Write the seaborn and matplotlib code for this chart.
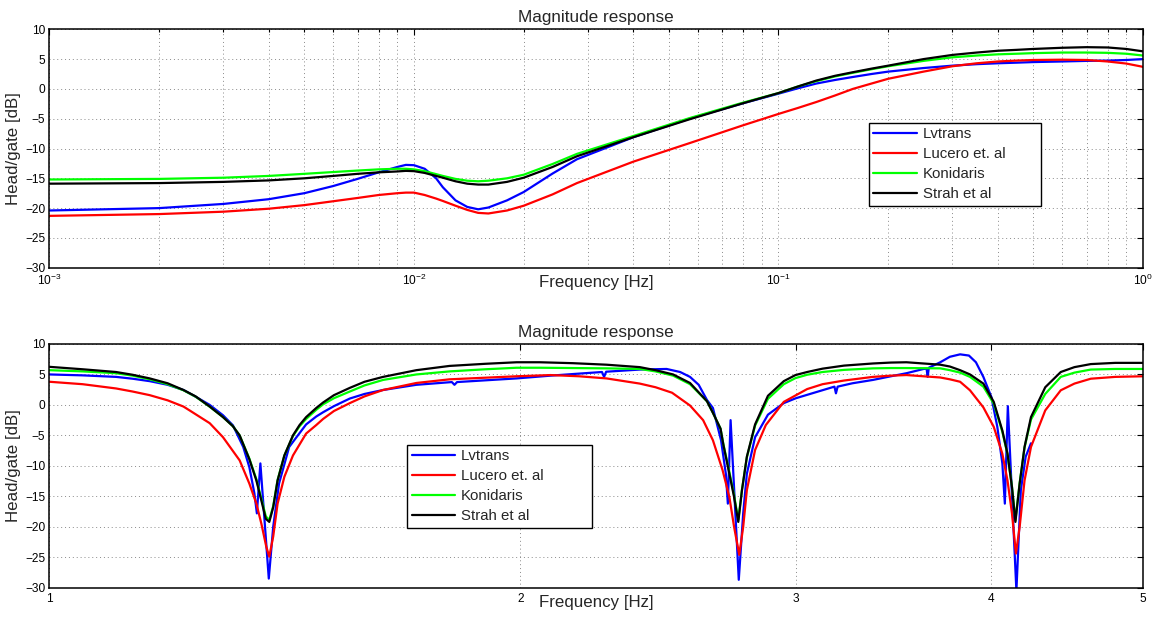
import numpy as np
import pandas as pd
import matplotlib
matplotlib.use("Agg")
import matplotlib.pyplot as plt
from matplotlib.ticker import FixedLocator, FixedFormatter, NullLocator, LogLocator
import seaborn as sns

# ---------------- data ----------------
models = ["Lvtrans", "Lucero et. al", "Konidaris", "Strah et al"]
colors = ["#0000ff", "#ff0000", "#00ff00", "#000000"]

# low-frequency sweep (Hz) and magnitude (dB)
top_freq = [0.001, 0.002, 0.003, 0.004, 0.005, 0.006, 0.007, 0.008, 0.009, 0.0095,
            0.010, 0.0107, 0.0115, 0.012, 0.013, 0.014, 0.015, 0.016, 0.018, 0.020,
            0.024, 0.028, 0.040, 0.057, 0.080, 0.100, 0.113, 0.127, 0.143, 0.160,
            0.180, 0.200, 0.250, 0.300, 0.350, 0.400, 0.450, 0.500, 0.600, 0.700,
            0.800, 0.900, 1.000]
top_lvtrans = [-20.4, -20.0, -19.3, -18.5, -17.5, -16.3, -15.1, -14.0, -13.1, -12.75,
               -12.8, -13.4, -15.0, -16.5, -18.7, -19.8, -20.2, -19.9, -18.7, -17.3,
               -14.2, -11.8, -8.1, -5.0, -2.4, -0.8, 0.1, 0.9, 1.5, 2.0,
               2.5, 2.9, 3.5, 3.9, 4.15, 4.3, 4.4, 4.5, 4.6, 4.7,
               4.75, 4.85, 5.0]
top_lucero = [-21.3, -21.0, -20.6, -20.1, -19.5, -18.85, -18.3, -17.8, -17.5, -17.4,
              -17.4, -17.8, -18.4, -18.8, -19.6, -20.3, -20.8, -20.9, -20.4, -19.6,
              -17.7, -15.8, -12.2, -9.1, -6.1, -4.2, -3.2, -2.2, -1.1, 0.0,
              0.9, 1.7, 2.9, 3.8, 4.3, 4.6, 4.75, 4.85, 4.9, 4.85,
              4.6, 4.25, 3.7]
top_konidaris = [-15.2, -15.1, -14.9, -14.6, -14.25, -13.95, -13.7, -13.5, -13.4, -13.4,
                 -13.5, -13.8, -14.3, -14.6, -15.1, -15.4, -15.5, -15.4, -15.0, -14.4,
                 -12.6, -10.9, -7.9, -4.9, -2.3, -0.7, 0.4, 1.3, 2.1, 2.7,
                 3.3, 3.8, 4.7, 5.3, 5.6, 5.8, 5.9, 6.0, 6.1, 6.1,
                 6.05, 5.9, 5.6]
top_strah = [-15.9, -15.8, -15.6, -15.35, -15.0, -14.6, -14.25, -14.0, -13.85, -13.75,
             -13.8, -14.1, -14.6, -14.9, -15.5, -15.9, -16.05, -16.05, -15.6, -14.9,
             -13.1, -11.3, -8.1, -5.1, -2.4, -0.7, 0.4, 1.4, 2.2, 2.8,
             3.4, 3.9, 5.0, 5.7, 6.1, 6.4, 6.55, 6.7, 6.9, 7.0,
             6.95, 6.7, 6.3]

# 1-5 Hz sweep
bot_lvtrans_f = [1.000, 1.050, 1.103, 1.130, 1.159, 1.190, 1.218, 1.240, 1.266, 1.291,
                 1.310, 1.330, 1.342, 1.352, 1.357, 1.364, 1.381, 1.390, 1.402, 1.423,
                 1.459, 1.481, 1.496, 1.520, 1.556, 1.590, 1.634, 1.716, 1.808, 1.815,
                 1.822, 1.989, 2.090, 2.170, 2.255, 2.262, 2.269, 2.384, 2.480, 2.530,
                 2.567, 2.600, 2.632, 2.655, 2.687, 2.706, 2.714, 2.725, 2.758, 2.776,
                 2.791, 2.825, 2.879, 2.947, 3.000, 3.100, 3.175, 3.182, 3.190, 3.260,
                 3.360, 3.450, 3.530, 3.620, 3.636, 3.642, 3.648, 3.710, 3.763, 3.820,
                 3.870, 3.910, 3.953, 4.000, 4.035, 4.065, 4.080, 4.098, 4.150, 4.177,
                 4.207, 4.240]
bot_lvtrans = [5.0, 4.85, 4.6, 4.3, 3.9, 3.3, 2.45, 1.35, 0.0, -1.7,
               -3.35, -6.9, -10.2, -14.5, -17.8, -9.6, -28.5, -20.0, -12.9, -6.9,
               -3.2, -1.9, -1.2, -0.2, 1.05, 1.8, 2.45, 3.3, 3.75, 3.3,
               3.75, 4.35, 4.8, 5.1, 5.4, 4.6, 5.45, 5.8, 5.9, 5.4,
               4.6, 3.3, 0.8, -0.5, -5.8, -11.3, -16.2, -2.5, -28.7, -17.8,
               -11.3, -5.3, -1.6, 0.3, 1.1, 2.2, 3.0, 1.9, 3.0, 3.55,
               4.1, 4.7, 5.2, 5.9, 5.95, 4.6, 6.1, 7.0, 7.9, 8.3,
               8.1, 7.0, 4.6, 1.3, -3.6, -9.6, -16.2, -0.2, -30.5, -14.0,
               -8.5, -6.3]

bot_lucero_f = [1.000, 1.050, 1.103, 1.130, 1.159, 1.190, 1.218, 1.229, 1.266, 1.291,
                1.323, 1.342, 1.356, 1.366, 1.376, 1.382, 1.390, 1.399, 1.413, 1.431,
                1.459, 1.481, 1.496, 1.520, 1.556, 1.590, 1.634, 1.716, 1.802, 1.989,
                2.090, 2.180, 2.270, 2.384, 2.440, 2.500, 2.567, 2.617, 2.655, 2.693,
                2.720, 2.739, 2.760, 2.776, 2.791, 2.825, 2.870, 2.947, 3.050, 3.120,
                3.220, 3.360, 3.450, 3.530, 3.710, 3.763, 3.820, 3.876, 3.953, 4.014,
                4.065, 4.096, 4.123, 4.147, 4.170, 4.200, 4.240, 4.330, 4.430, 4.520,
                4.630, 4.800, 5.000]
bot_lucero = [3.8, 3.4, 2.7, 2.2, 1.6, 0.75, -0.27, -0.9, -3.0, -5.3,
              -9.1, -12.9, -16.2, -19.5, -23.3, -24.9, -21.6, -16.2, -11.8, -8.3,
              -4.7, -3.3, -2.3, -1.0, 0.3, 1.4, 2.45, 3.6, 4.2, 4.7,
              4.9, 4.7, 4.35, 3.5, 2.9, 2.0, -0.1, -2.5, -5.8, -10.7,
              -15.1, -20.0, -24.6, -20.0, -14.0, -7.4, -3.3, 0.5, 2.6, 3.4,
              4.0, 4.6, 4.8, 4.9, 4.5, 4.2, 3.8, 2.4, -0.4, -3.6,
              -8.0, -12.4, -17.8, -24.4, -20.0, -12.4, -6.9, -0.9, 2.4, 3.5,
              4.3, 4.6, 4.7]

bot_kg_f = [1.000, 1.050, 1.103, 1.130, 1.159, 1.190, 1.218, 1.240, 1.266, 1.291,
            1.310, 1.323, 1.342, 1.356, 1.366, 1.375, 1.382, 1.390, 1.399, 1.413,
            1.431, 1.445, 1.459, 1.481, 1.496, 1.520, 1.556, 1.590, 1.634, 1.716,
            1.802, 1.900, 1.989, 2.058, 2.160, 2.270, 2.384, 2.440, 2.504, 2.567,
            2.632, 2.655, 2.685, 2.696, 2.720, 2.739, 2.756, 2.771, 2.791, 2.825,
            2.879, 2.947, 2.998, 3.050, 3.120, 3.220, 3.360, 3.450, 3.530, 3.710,
            3.763, 3.820, 3.876, 3.953, 4.014, 4.065, 4.096, 4.123, 4.144, 4.170,
            4.200, 4.240, 4.330, 4.430, 4.520, 4.630, 4.800, 5.000]
bot_konidaris = [5.7, 5.5, 5.2, 4.8, 4.2, 3.4, 2.4, 1.35, -0.3, -2.0,
                 -3.5, -5.0, -8.8, -12.2, -15.4, -18.3, -18.9, -16.6, -12.3, -8.3,
                 -5.1, -3.5, -2.3, -0.8, 0.1, 1.1, 2.2, 3.2, 4.1, 5.0,
                 5.5, 5.85, 6.1, 6.1, 6.05, 6.0, 5.9, 5.5, 4.8, 3.4,
                 0.6, -1.3, -3.9, -6.4, -11.0, -14.8, -18.9, -13.9, -8.6, -3.4,
                 1.0, 3.4, 4.4, 4.95, 5.4, 5.75, 6.0, 6.05, 6.05, 6.0,
                 5.7, 5.3, 4.6, 3.0, 0.2, -4.4, -8.1, -13.4, -18.9, -12.8,
                 -7.0, -2.4, 1.8, 4.6, 5.3, 5.8, 5.9, 5.9]
bot_strah = [6.25, 5.85, 5.4, 4.95, 4.35, 3.55, 2.45, 1.4, -0.27, -2.0,
             -3.5, -5.0, -8.9, -12.4, -15.7, -18.7, -19.2, -16.8, -12.4, -8.3,
             -5.0, -3.3, -2.0, -0.5, 0.4, 1.6, 2.8, 3.8, 4.6, 5.7,
             6.4, 6.75, 7.0, 7.0, 6.85, 6.6, 6.2, 5.7, 5.0, 3.6,
             0.6, -1.3, -3.9, -6.5, -11.3, -15.1, -19.2, -14.0, -8.5, -3.2,
             1.5, 3.9, 4.9, 5.4, 5.95, 6.45, 6.8, 6.95, 7.0, 6.6,
             6.3, 5.7, 5.0, 3.5, 0.5, -4.2, -8.0, -13.5, -19.2, -12.9,
             -6.9, -2.0, 2.9, 5.4, 6.2, 6.7, 6.9, 6.9]

bot_ticks = [1, 2, 3, 4, 5]
bot_ticklabels = ["1", "2", "3", "4", "5"]
y_ticks = [-30, -25, -20, -15, -10, -5, 0, 5, 10]


def long_form(series):
    frames = []
    for name, (f, db) in zip(models, series):
        frames.append(pd.DataFrame({"freq": f, "dB": db, "model": name}))
    return pd.concat(frames, ignore_index=True)


df_top = long_form([(top_freq, top_lvtrans), (top_freq, top_lucero),
                    (top_freq, top_konidaris), (top_freq, top_strah)])
df_bot = long_form([(bot_lvtrans_f, bot_lvtrans), (bot_lucero_f, bot_lucero),
                    (bot_kg_f, bot_konidaris), (bot_kg_f, bot_strah)])

# ---------------- style ----------------
sns.set_theme(style="white")
plt.rcParams["font.family"] = ["Liberation Sans", "DejaVu Sans"]
plt.rcParams["mathtext.fontset"] = "custom"
plt.rcParams["mathtext.rm"] = "Liberation Sans"
plt.rcParams["mathtext.it"] = "Liberation Sans:italic"
plt.rcParams["mathtext.bf"] = "Liberation Sans:bold"
plt.rcParams["axes.unicode_minus"] = True

fig = plt.figure(figsize=(11.61, 6.18), dpi=100)
ax_top = fig.add_axes([0.0426, 0.5668, 0.9419, 0.3858])
ax_bot = fig.add_axes([0.0426, 0.0490, 0.9419, 0.3944])

palette = dict(zip(models, colors))
grid_kw = dict(color="#8a8a8a", linestyle=(0, (1, 3)), linewidth=0.7)


def draw(ax, df, legend_box):
    sns.lineplot(data=df, x="freq", y="dB", hue="model", hue_order=models,
                 palette=palette, estimator=None, sort=False, linewidth=1.6,
                 ax=ax, legend=True)
    ax.set_xscale("log")
    ax.set_ylim(-30, 10)
    ax.yaxis.set_major_locator(FixedLocator(y_ticks))
    ax.set_title("Magnitude response", fontsize=12.3, pad=5)
    ax.set_xlabel("Frequency [Hz]", fontsize=12.2)
    ax.set_ylabel("Head/gate [dB]", fontsize=12.2)
    ax.tick_params(which="both", direction="in", top=True, right=True,
                   labelsize=8.6, width=0.8, colors="black")
    ax.tick_params(which="major", length=4.5)
    ax.tick_params(which="minor", length=2.5)
    ax.tick_params(axis="x", pad=3.5)
    ax.tick_params(axis="y", pad=3)
    for s in ax.spines.values():
        s.set_color("black")
        s.set_linewidth(1.1)
    old = ax.get_legend()
    handles = old.legend_handles
    labels = [t.get_text() for t in old.texts]
    old.remove()
    for h in handles:
        h.set_linewidth(1.6)
    leg = ax.legend(handles, labels, loc="upper left",
                    bbox_to_anchor=legend_box, mode="expand",
                    borderaxespad=0, fontsize=10.8, frameon=True, fancybox=False,
                    framealpha=1, edgecolor="black", handlelength=2.9,
                    handletextpad=0.4, labelspacing=0.4, borderpad=0.3)
    leg.get_frame().set_linewidth(1.0)
    ax.xaxis.set_label_coords(0.5, -0.03)
    ax.yaxis.set_label_coords(-0.026, 0.5)


# legend boxes given as (x0, y0, width, height) in axes fractions
draw(ax_top, df_top, (0.749, 0.255, 0.158, 0.352))
ax_top.set_xlim(1e-3, 1)
ax_top.xaxis.set_minor_locator(LogLocator(base=10, subs=np.arange(2, 10)))
ax_top.grid(True, which="both", axis="x", **grid_kw)
ax_top.grid(True, which="major", axis="y", **grid_kw)

draw(ax_bot, df_bot, (0.327, 0.241, 0.169, 0.345))
ax_bot.set_xlim(1, 5)
ax_bot.xaxis.set_major_locator(FixedLocator(bot_ticks))
ax_bot.xaxis.set_major_formatter(FixedFormatter(bot_ticklabels))
ax_bot.xaxis.set_minor_locator(NullLocator())
ax_bot.grid(True, which="major", axis="both", **grid_kw)

fig.savefig("out.png", dpi=100)
